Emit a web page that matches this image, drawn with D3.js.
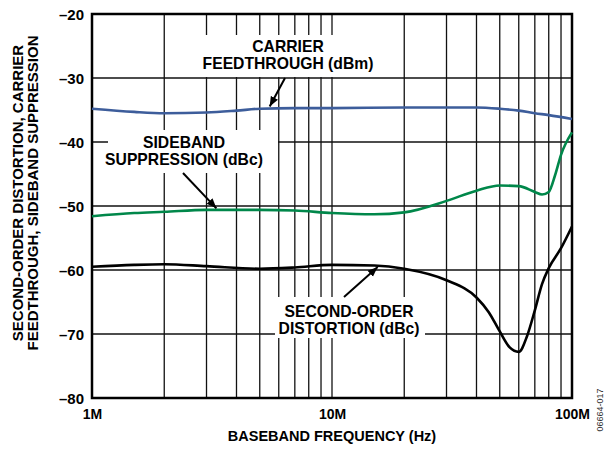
<!DOCTYPE html>
<html>
<head>
<meta charset="utf-8">
<script src="https://cdn.jsdelivr.net/npm/d3@7"></script>
<style>
html,body{margin:0;padding:0;background:#fff;}
svg{display:block;}
text{font-family:"Liberation Sans",Arial,sans-serif;font-weight:bold;fill:#000;}
</style>
</head>
<body>
<svg id="chart" width="613" height="455"></svg>
<script>
// ---- data (frequency in MHz, level in dB) ----
const carrierFreq = [1, 1.5, 2, 3, 4, 5, 7, 10, 20, 40, 50, 60, 70, 80, 100];
const carrierVals = [-34.8, -35.3, -35.5, -35.4, -35.1, -34.8, -34.7, -34.7, -34.6, -34.6, -34.8, -35.1, -35.5, -35.8, -36.4];

const sidebandFreq = [1, 1.5, 2, 3, 5, 7, 10, 15, 20, 30, 40, 50, 60, 70, 75, 80, 85, 90, 100];
const sidebandVals = [-51.6, -51.1, -50.9, -50.6, -50.6, -50.7, -51.1, -51.3, -51.0, -49.2, -47.6, -46.8, -46.9, -47.8, -48.2, -47.8, -45.2, -42.0, -38.5];

const secondFreq = [1, 1.5, 2, 3, 5, 7, 10, 15, 20, 30, 40, 45, 50, 55, 60, 65, 70, 75, 80, 90, 100];
const secondVals = [-59.5, -59.2, -59.1, -59.4, -59.8, -59.6, -59.2, -59.3, -59.8, -61.6, -64.3, -66.6, -69.6, -72.1, -72.8, -70.3, -66.3, -62.2, -59.7, -56.6, -53.2];

const xTickVals = [1, 10, 100];
const xTickLabels = ["1M", "10M", "100M"];
const yTickVals = [-20, -30, -40, -50, -60, -70, -80];
const yTickLabels = ["\u201320", "\u201330", "\u201340", "\u201350", "\u201360", "\u201370", "\u201380"];

const seriesColors = {carrier: "#3d5d9b", sideband: "#00874a", second: "#000000"};

// ---- layout ----
const svg = d3.select("#chart");
const L = 92, R = 572, T = 14, B = 398;
const x = d3.scaleLog().domain([1, 100]).range([L, R]);
const y = d3.scaleLinear().domain([-80, -20]).range([B, T]);

// grid
const minor = [];
for (let d = 1; d < 100; d *= 10) for (let k = 2; k <= 9; k++) minor.push(d * k);
const gGrid = svg.append("g");
gGrid.selectAll("line.v").data(minor.concat([10])).join("line")
  .attr("x1", d => x(d)).attr("x2", d => x(d)).attr("y1", T).attr("y2", B)
  .attr("stroke", "#111").attr("stroke-width", 1.3);
gGrid.selectAll("line.h").data(yTickVals.slice(1, -1)).join("line")
  .attr("x1", L).attr("x2", R).attr("y1", d => y(d)).attr("y2", d => y(d))
  .attr("stroke", "#111").attr("stroke-width", 1.3);

// white label boxes (hide grid behind annotations)
const boxes = [[196, 35, 184, 42], [108, 130, 170, 43], [275, 297, 150, 41]];
svg.append("g").selectAll("rect").data(boxes).join("rect")
  .attr("x", d => d[0]).attr("y", d => d[1]).attr("width", d => d[2]).attr("height", d => d[3])
  .attr("fill", "#fff");

// frame
svg.append("rect").attr("x", L).attr("y", T).attr("width", R - L).attr("height", B - T)
  .attr("fill", "none").attr("stroke", "#000").attr("stroke-width", 2.5);

// axes labels
const xAxis = d3.axisBottom(x).tickValues(xTickVals).tickFormat((d, i) => xTickLabels[i]).tickSize(0).tickPadding(0);
const gx = svg.append("g").attr("transform", `translate(0,${B})`).call(xAxis);
gx.select(".domain").remove();
gx.selectAll("text").attr("dy", null).attr("y", 21).style("font-size", "14px")
  .style("font-family", '"Liberation Sans",Arial,sans-serif').style("font-weight", "bold");

const yAxis = d3.axisLeft(y).tickValues(yTickVals).tickFormat((d, i) => yTickLabels[i]).tickSize(0).tickPadding(8);
const gy = svg.append("g").attr("transform", `translate(${L},0)`).call(yAxis);
gy.select(".domain").remove();
gy.selectAll("text").attr("dy", "0.35em").style("font-size", "15px")
  .style("font-family", '"Liberation Sans",Arial,sans-serif').style("font-weight", "bold");

// curves
const line = d3.line().x(d => x(d[0])).y(d => y(d[1])).curve(d3.curveMonotoneX);
const series = [
  [carrierFreq, carrierVals, seriesColors.carrier],
  [sidebandFreq, sidebandVals, seriesColors.sideband],
  [secondFreq, secondVals, seriesColors.second]
];
svg.append("g").selectAll("path").data(series).join("path")
  .attr("d", s => line(s[0].map((f, i) => [f, s[1][i]])))
  .attr("fill", "none").attr("stroke", s => s[2]).attr("stroke-width", 2.6);

// annotations
const ann = svg.append("g").style("font-size", "15.7px").attr("text-anchor", "middle");
function lbl(cx, by, lines) {
  lines.forEach((t, i) => ann.append("text").attr("x", cx).attr("y", by + i * 16.5).text(t));
}
lbl(288, 52, ["CARRIER", "FEEDTHROUGH (dBm)"]);
lbl(184, 148, ["SIDEBAND", "SUPPRESSION (dBc)"]);
lbl(349, 317, ["SECOND-ORDER", "DISTORTION (dBc)"]);

svg.append("defs").append("marker").attr("id", "ah").attr("viewBox", "0 0 10 10")
  .attr("refX", 10).attr("refY", 5).attr("markerWidth", 5).attr("markerHeight", 5)
  .attr("orient", "auto").attr("markerUnits", "strokeWidth")
  .append("path").attr("d", "M0,1 L10,5 L0,9 Z").attr("fill", "#000");
const arrows = [[285, 78, [5.5], -34.7], [183, 173, [3.3], -50.6], [344, 297, [15.5], -59.3]];
svg.append("g").selectAll("line").data(arrows).join("line")
  .attr("x1", d => d[0]).attr("y1", d => d[1])
  .attr("x2", d => x(d[2][0])).attr("y2", d => y(d[3]) + (d[1] < y(d[3]) ? -1.5 : 1.5))
  .attr("stroke", "#000").attr("stroke-width", 2).attr("marker-end", "url(#ah)");

// axis titles
svg.append("text").attr("x", 332).attr("y", 441).attr("text-anchor", "middle")
  .style("font-size", "14.5px").text("BASEBAND FREQUENCY (Hz)");
const yt = svg.append("g").attr("transform", "translate(23,193) rotate(-90)").style("font-size", "15px").attr("text-anchor", "middle");
yt.append("text").attr("x", 0).attr("y", 0).text("SECOND-ORDER DISTORTION, CARRIER");
yt.append("text").attr("x", 0).attr("y", 15).text("FEEDTHROUGH, SIDEBAND SUPPRESSION");

svg.append("text").attr("transform", "translate(603,410) rotate(-90)").attr("text-anchor", "middle")
  .style("font-size", "9px").style("font-weight", "normal").style("fill", "#333").text("06664-017");
</script>
</body>
</html>
